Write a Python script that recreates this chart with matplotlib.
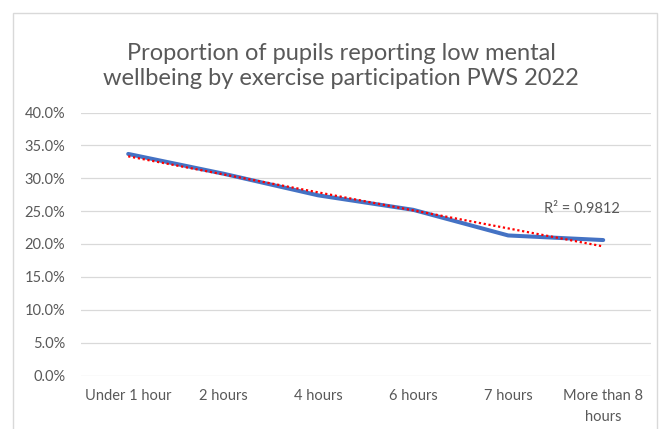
import matplotlib
matplotlib.use("Agg")
import matplotlib.pyplot as plt
from matplotlib.patches import Rectangle
from matplotlib.ticker import PercentFormatter
import numpy as np

categories = ["Under 1 hour", "2 hours", "4 hours", "6 hours", "7 hours", "More than 8\nhours"]
values = [33.7, 30.7, 27.4, 25.2, 21.3, 20.6]
yticks = [0, 5, 10, 15, 20, 25, 30, 35, 40]
title = "Proportion of pupils reporting low mental\nwellbeing by exercise participation PWS 2022"
r2_label = "R² = 0.9812"

plt.rcParams['font.family'] = ['Lato', 'DejaVu Sans']
TXT = "#595959"

fig = plt.figure(figsize=(6.59, 4.29), dpi=100)
fig.patch.set_facecolor("white")
ax = fig.add_axes([80.7/659, 1-375.5/429, 570/659, 263/429])

x = np.arange(len(categories))
ax.plot(x, values, color="#4472C4", lw=2.9, solid_capstyle="round", zorder=3)

# linear trendline
coef = np.polyfit(x, values, 1)
trend = np.polyval(coef, x)
ax.plot(x, trend, color="#FF0000", lw=1.6, linestyle=(0, (1, 1.2)), zorder=4)

ax.text(x[-1] - 0.22, values[-1] + 4.7, r2_label, color=TXT, fontsize=10.5,
        ha="center", va="center")

ax.set_xlim(-0.5, len(categories) - 0.5)
ax.set_ylim(0, 40)
ax.set_yticks(yticks)
ax.yaxis.set_major_formatter(PercentFormatter(decimals=1))
ax.set_xticks(x)
ax.set_xticklabels(categories, ha="center", linespacing=1.6)
ax.tick_params(axis="both", length=0, colors=TXT, labelsize=10.5)
ax.tick_params(axis="y", pad=11)
ax.tick_params(axis="x", pad=10)
ax.grid(axis="y", color="#D9D9D9", lw=0.9)
ax.set_axisbelow(True)
for s in ax.spines.values():
    s.set_visible(False)

fig.text(341/659, 1-66/429, title, ha="center", va="center", color=TXT,
         fontsize=17, linespacing=1.25)

fig.patches.append(Rectangle((12.5/659, -0.05), (657-12.5)/659, 1.05 - 13/429,
                             transform=fig.transFigure, fill=False,
                             edgecolor="#D9D9D9", lw=1))

fig.savefig("out.png", dpi=100, facecolor="white")
